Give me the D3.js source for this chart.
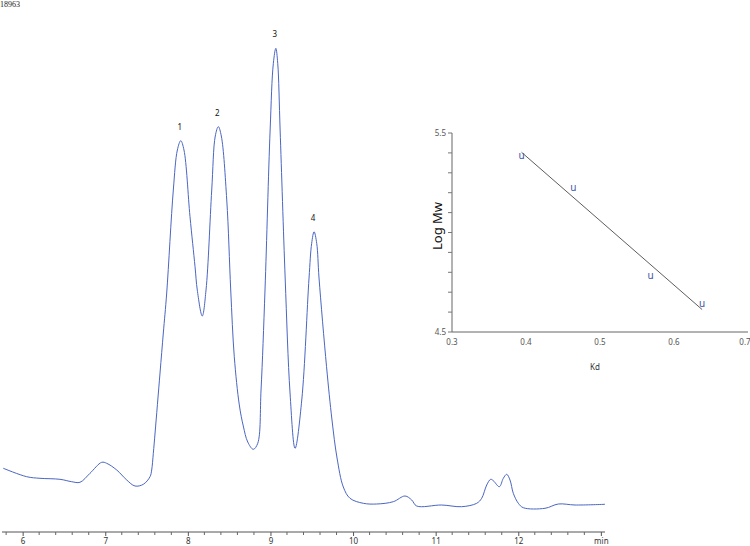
<!DOCTYPE html>
<html>
<head>
<meta charset="utf-8">
<script src="https://cdn.jsdelivr.net/npm/d3@7"></script>
<style>
  body { margin: 0; background: #fff; }
  svg { display: block; font-family: "Noto Sans", "DejaVu Sans", sans-serif; }
</style>
</head>
<body>
<div id="plot"></div>
<script>
// chromatogram trace, time (min) and detector signal (mV)
var time = [5.766, 6.049, 6.210, 6.452, 6.594, 6.694, 6.815, 6.957, 7.017, 7.139, 7.260, 7.360, 7.461, 7.542,
            7.562, 7.582, 7.603, 7.663, 7.703, 7.744, 7.824, 7.873, 7.914, 7.953, 8.026, 8.087, 8.114, 8.174,
            8.220, 8.289, 8.332, 8.369, 8.405, 8.471, 8.519, 8.562, 8.623, 8.671, 8.725, 8.792, 8.846, 8.886,
            8.934, 8.996, 9.035,
            9.065, 9.088, 9.117, 9.178, 9.237, 9.298, 9.379, 9.467, 9.499, 9.528, 9.560, 9.588, 9.679, 9.745,
            9.806, 9.882, 9.963, 10.124, 10.286, 10.487, 10.629, 10.710, 10.770, 11.073, 11.315, 11.497, 11.557,
            11.618, 11.666, 11.698, 11.771, 11.819, 11.860, 11.900, 11.940, 12.001, 12.061, 12.324, 12.485,
            12.687, 13.050];
var signal = [63.7, 55.3, 53.7, 52.7, 50.3, 49.7, 58.7, 69.7, 68.7, 62, 52, 46, 47.7, 55.3,
              62, 78.7, 99, 159, 199, 239, 342, 382, 391.3, 382, 315.3, 265.3, 242, 216,
              242, 342, 396, 405.3, 396, 332, 242, 175.3, 127, 106, 90, 82.7, 88.7, 142,
              242, 402, 468.7,
              483.7, 468.7, 402, 254, 139, 83.7, 132, 254, 288.7, 300.3, 288.7, 254, 165.3, 112,
              74, 45, 33.7, 28.7, 28, 30.3, 36, 32, 26, 27, 25.3, 28.7, 33.7,
              47, 52.7, 51.3, 45.3, 53.7, 57.7, 52, 38.7, 28.7, 24.3, 23.7, 28,
              27, 27.7];

// numbered peaks
var peakNames = ["1", "2", "3", "4"];
var peakTimes = [7.914, 8.369, 9.065, 9.528];
var peakSignal = [391.3, 405.3, 483.7, 300.3];

var xTicks = [6, 7, 8, 9, 10, 11, 12, 13];

// calibration inset
var kd = [0.394, 0.464, 0.5685, 0.638];
var logMw = [5.386, 5.222, 4.783, 4.639];
var kdTicks = [0.3, 0.4, 0.5, 0.6, 0.7];
var mwTicks = [4.5, 4.6, 4.7, 4.8, 4.9, 5.0, 5.1, 5.2, 5.3, 5.4, 5.5];
var mwLabels = [4.5, 5.5];

var sampleId = "18963";

var W = 750, H = 546;
var svg = d3.select("#plot").append("svg")
    .attr("width", W)
    .attr("height", H);

var data = time.map(function(t, i) { return {t: t, v: signal[i]}; });

var Xscale = d3.scaleLinear().domain([5.75, 13.05]).range([2, 605]);
var Yscale = d3.scaleLinear().domain([0, 500]).range([532, 32]);

// id in the corner
svg.append("text")
    .attr("x", 0).attr("y", 7)
    .style("font-family", "'Liberation Serif', serif")
    .style("font-size", "8px")
    .attr("fill", "#222")
    .text(sampleId);

// X axis, minor ticks every 0.2 min
var axisX = svg.append("g")
    .attr("transform", "translate(0,532)");

axisX.append("line")
    .attr("x1", 2).attr("x2", 605)
    .attr("stroke", "#555").attr("stroke-width", 1);

var minor = d3.range(29, 66).map(function(i) { return i / 5; })
    .filter(function(d) { return xTicks.indexOf(d) < 0 && d <= 13.04; });
axisX.selectAll(".minor").data(minor).enter().append("line")
    .attr("x1", function(d) { return Xscale(d); })
    .attr("x2", function(d) { return Xscale(d); })
    .attr("y1", 0).attr("y2", 3)
    .attr("stroke", "#666");

axisX.append("g")
    .call(d3.axisBottom(Xscale)
        .tickValues(xTicks)
        .tickSize(4)
        .tickFormat(function(d) { return d === 13 ? "min" : d; }))
    .call(function(g) { g.select(".domain").remove(); })
    .call(function(g) {
        g.selectAll("line").attr("stroke", "#555");
        g.selectAll("text")
            .attr("y", 6)
            .style("font-size", "8px")
            .style("font-family", "'Noto Sans', sans-serif")
            .attr("fill", "#333");
    });

// the trace
var valueline = d3.line()
    .x(function(d) { return Xscale(d.t); })
    .y(function(d) { return Yscale(d.v); })
    .curve(d3.curveCatmullRom.alpha(0.5));

svg.append("path")
    .datum(data)
    .attr("fill", "none")
    .attr("stroke", "#4a66c2")
    .attr("stroke-width", 1)
    .attr("d", valueline);

// peak numbers
svg.selectAll(".peak").data(peakNames).enter().append("text")
    .attr("x", function(d, i) { return Xscale(peakTimes[i]) - 1; })
    .attr("y", function(d, i) { return Yscale(peakSignal[i]) - 11; })
    .attr("text-anchor", "middle")
    .style("font-size", "8px")
    .attr("fill", "#111")
    .text(function(d) { return d; });

// inset calibration plot
var Kscale = d3.scaleLinear().domain([0.3, 0.7]).range([452, 748]);
var Mscale = d3.scaleLinear().domain([4.5, 5.5]).range([332, 133]);

var inset = svg.append("g");

inset.append("line")
    .attr("x1", 452).attr("x2", 748)
    .attr("y1", 332).attr("y2", 332)
    .attr("stroke", "#666");
inset.append("line")
    .attr("x1", 452).attr("x2", 452)
    .attr("y1", 133).attr("y2", 332)
    .attr("stroke", "#666");

inset.selectAll(".ytick").data(mwTicks).enter().append("line")
    .attr("x1", 448).attr("x2", 452)
    .attr("y1", function(d) { return Mscale(d); })
    .attr("y2", function(d) { return Mscale(d); })
    .attr("stroke", "#777");

inset.selectAll(".ylab").data(mwLabels).enter().append("text")
    .attr("x", 446)
    .attr("y", function(d) { return Mscale(d); })
    .attr("dy", "0.35em")
    .attr("text-anchor", "end")
    .style("font-size", "8px")
    .attr("fill", "#555")
    .text(function(d) { return d3.format(".1f")(d); });

inset.selectAll(".xlab").data(kdTicks).enter().append("text")
    .attr("x", function(d) { return Math.min(Kscale(d), 745); })
    .attr("y", 345)
    .attr("text-anchor", "middle")
    .style("font-size", "8px")
    .attr("fill", "#555")
    .text(function(d) { return d3.format(".1f")(d); });

inset.append("text")
    .attr("x", 595).attr("y", 370)
    .attr("text-anchor", "middle")
    .style("font-size", "8px")
    .attr("fill", "#333")
    .text("Kd");

inset.append("text")
    .attr("transform", "translate(442,226) rotate(-90)")
    .attr("text-anchor", "middle")
    .style("font-size", "13px")
    .attr("fill", "#111")
    .text("Log Mw");

// least squares line through the standards
var mk = d3.mean(kd), mm = d3.mean(logMw);
var sxy = d3.sum(kd, function(d, i) { return (d - mk) * (logMw[i] - mm); });
var sxx = d3.sum(kd, function(d) { return (d - mk) * (d - mk); });
var slope = sxy / sxx, icpt = mm - slope * mk;
var kext = d3.extent(kd);

inset.append("line")
    .attr("x1", Kscale(kext[0])).attr("y1", Mscale(icpt + slope * kext[0]))
    .attr("x2", Kscale(kext[1])).attr("y2", Mscale(icpt + slope * kext[1]))
    .attr("stroke", "#333")
    .attr("stroke-width", 0.8);

inset.selectAll(".pt").data(kd).enter().append("text")
    .attr("x", function(d) { return Kscale(d); })
    .attr("y", function(d, i) { return Mscale(logMw[i]); })
    .attr("dy", "0.3em")
    .attr("text-anchor", "middle")
    .style("font-size", "10px")
    .attr("fill", "#3d55a8")
    .text("u");
</script>
</body>
</html>
